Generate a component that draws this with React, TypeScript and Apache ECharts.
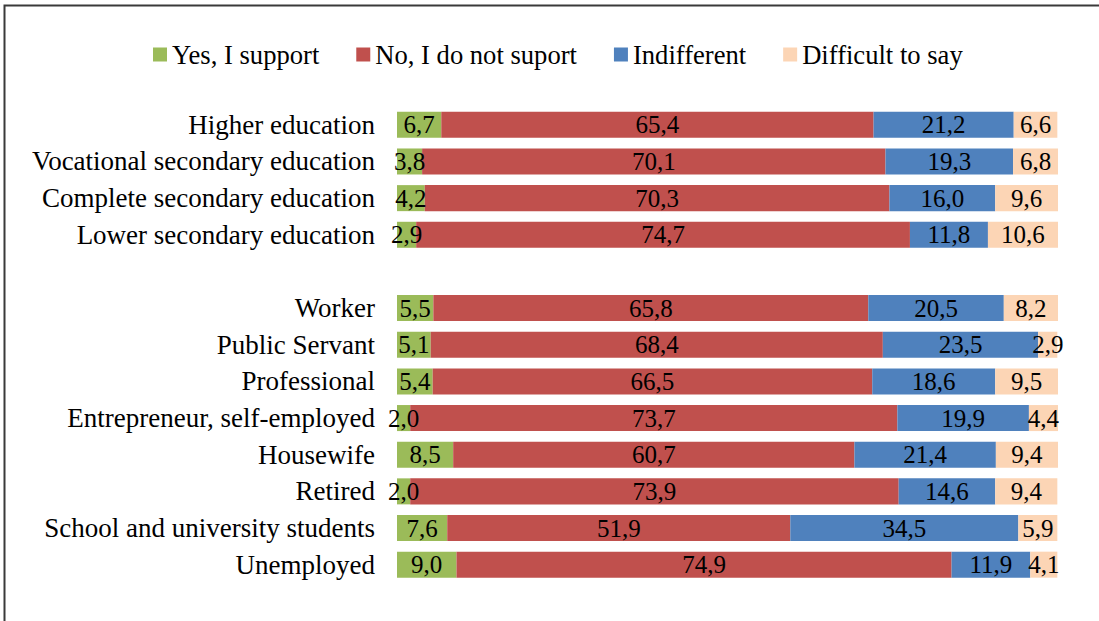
import React, { useEffect, useRef } from "react";
import * as echarts from "echarts";

const categories = [
  "Higher education",
  "Vocational secondary education",
  "Complete secondary education",
  "Lower secondary education",
  "",
  "Worker",
  "Public Servant",
  "Professional",
  "Entrepreneur, self-employed",
  "Housewife",
  "Retired",
  "School and university students",
  "Unemployed",
];
const yes = [6.7, 3.8, 4.2, 2.9, null, 5.5, 5.1, 5.4, 2.0, 8.5, 2.0, 7.6, 9.0];
const no = [65.4, 70.1, 70.3, 74.7, null, 65.8, 68.4, 66.5, 73.7, 60.7, 73.9, 51.9, 74.9];
const indifferent = [21.2, 19.3, 16.0, 11.8, null, 20.5, 23.5, 18.6, 19.9, 21.4, 14.6, 34.5, 11.9];
const difficult = [6.6, 6.8, 9.6, 10.6, null, 8.2, 2.9, 9.5, 4.4, 9.4, 9.4, 5.9, 4.1];

const seriesDefs = [
  { name: "Yes, I support", data: yes, color: "#9BBB59" },
  { name: "No, I do not suport", data: no, color: "#C0504D" },
  { name: "Indifferent", data: indifferent, color: "#4F81BD" },
  { name: "Difficult to say", data: difficult, color: "#FCD5B5" },
];

const FONT = "'Liberation Serif', 'Times New Roman', serif";

export default function App() {
  const ref = useRef<HTMLDivElement>(null);
  useEffect(() => {
    const chart = echarts.init(ref.current!, null, { renderer: "svg" });
    chart.setOption({
      animation: false,
      backgroundColor: "#fff",
      textStyle: { fontFamily: FONT },
      graphic: [
        {
          type: "rect",
          shape: { x: 4.5, y: 5.5, width: 1200, height: 800 },
          style: { fill: "none", stroke: "#3a3a3a", lineWidth: 2 },
          silent: true,
        },
      ],
      legend: {
        top: 36,
        left: 148,
        itemWidth: 14,
        itemHeight: 14,
        itemGap: 37,
        icon: "rect",
        textStyle: { fontFamily: FONT, fontSize: 26.6, color: "#000" },
        data: seriesDefs.map((s) => s.name),
      },
      grid: { left: 397, right: 41, top: 106.5, height: 476.5 },
      xAxis: {
        type: "value",
        min: 0,
        max: 100,
        show: false,
      },
      yAxis: {
        type: "category",
        inverse: true,
        data: categories,
        axisLine: { show: false },
        axisTick: { show: false },
        axisLabel: {
          fontFamily: FONT,
          fontSize: 27,
          color: "#000",
          margin: 22,
        },
      },
      series: seriesDefs.map((s) => ({
        name: s.name,
        type: "bar",
        stack: "total",
        barCategoryGap: "29%",
        data: s.data.map((v) => (v === null ? "-" : v)),
        itemStyle: { color: s.color },
        label: {
          show: true,
          position: "inside",
          fontFamily: FONT,
          fontSize: 25,
          color: "#000",
          formatter: (p: any) => Number(p.value).toFixed(1).replace(".", ","),
        },
      })),
    });
    return () => chart.dispose();
  }, []);
  return (
    <div
      ref={ref}
      style={{ position: "absolute", left: 0, top: 0, width: 1099, height: 621 }}
    />
  );
}
